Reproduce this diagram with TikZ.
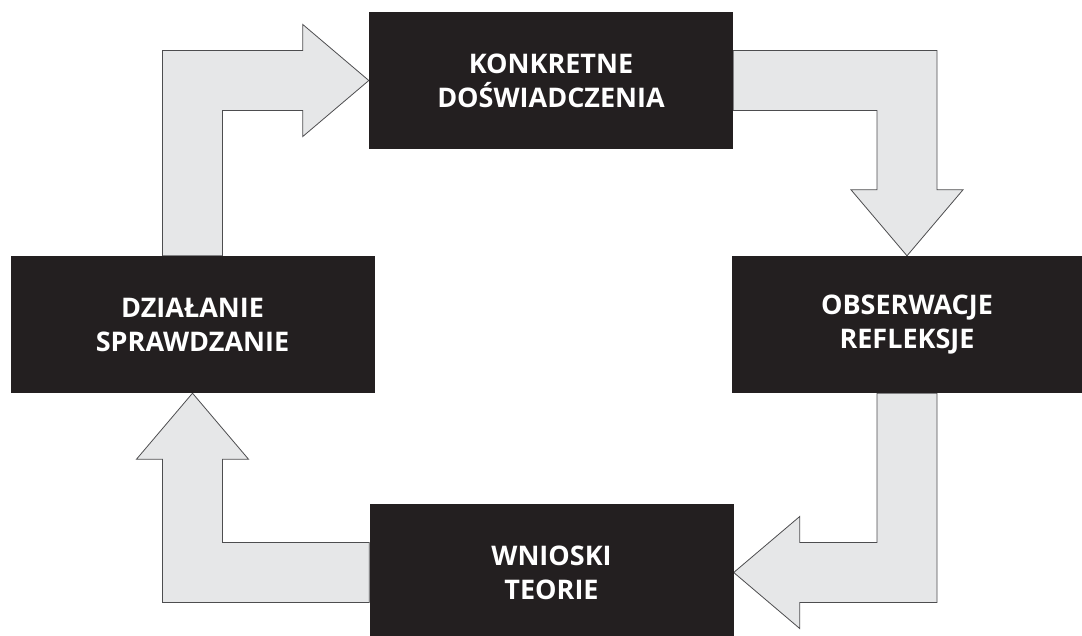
\documentclass[tikz,border=0pt]{standalone}
\usepackage{fontspec}
\setmainfont{Open Sans}
\usepackage{tikz}
\usetikzlibrary{positioning,calc,backgrounds}

\definecolor{boxblack}{HTML}{231F20}
\definecolor{arrowgray}{HTML}{E6E7E8}
\definecolor{arrowline}{HTML}{4D4D4F}

\begin{document}
\begin{tikzpicture}[
      x=1pt, y=1pt,
      stage/.style={fill=boxblack, text=white, align=center, inner sep=0pt,
        minimum width=364pt, minimum height=137pt,
        font=\bfseries\fontsize{27}{34}\selectfont},
      blockarr/.style={fill=arrowgray, draw=arrowline, line width=0.8pt, line join=miter}
    ]
    \useasboundingbox (0,0) rectangle (1082,635);

    % ===== the four stages =====
    \node[stage] (kd) at (551,554.5) {KONKRETNE\\DOŚWIADCZENIA};
    \node[stage, minimum width=350pt] (ob) at (907,310.5) {OBSERWACJE\\REFLEKSJE};
    \node[stage] (wn) at (551.5,62.5) {WNIOSKI\\TEORIE};
    \node[stage] (dz) at (192.5,310.5) {DZIAŁANIE\\SPRAWDZANIE};

    % ===== block arrows (shaft 60, head 112 x 66) =====
    \begin{scope}[on background layer]
    % dz -> kd
    \draw[blockarr] ([xshift=-30pt]dz.north) |- ([shift={(-66pt,30pt)}]kd.west)
      -- ([shift={(-66pt,56pt)}]kd.west) -- (kd.west)
      -- ([shift={(-66pt,-56pt)}]kd.west) -- ([shift={(-66pt,-30pt)}]kd.west)
      -| ([xshift=30pt]dz.north) -- cycle;
    % kd -> ob
    \draw[blockarr] ([yshift=30pt]kd.east) -| ([shift={(30pt,66pt)}]ob.north)
      -- ([shift={(56pt,66pt)}]ob.north) -- (ob.north)
      -- ([shift={(-56pt,66pt)}]ob.north) -- ([shift={(-30pt,66pt)}]ob.north)
      |- ([yshift=-30pt]kd.east) -- cycle;
    % ob -> wn
    \draw[blockarr] ([xshift=30pt]ob.south) |- ([shift={(66pt,-30pt)}]wn.east)
      -- ([shift={(66pt,-56pt)}]wn.east) -- (wn.east)
      -- ([shift={(66pt,56pt)}]wn.east) -- ([shift={(66pt,30pt)}]wn.east)
      -| ([xshift=-30pt]ob.south) -- cycle;
    % wn -> dz
    \draw[blockarr] ([yshift=-30pt]wn.west) -| ([shift={(-30pt,-66pt)}]dz.south)
      -- ([shift={(-56pt,-66pt)}]dz.south) -- (dz.south)
      -- ([shift={(56pt,-66pt)}]dz.south) -- ([shift={(30pt,-66pt)}]dz.south)
      |- ([yshift=30pt]wn.west) -- cycle;
    \end{scope}
\end{tikzpicture}
\end{document}
